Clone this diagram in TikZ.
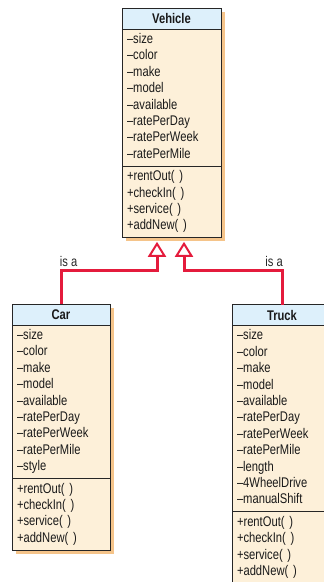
\documentclass[tikz,border=0pt]{standalone}
\usepackage{fontspec}
\setmainfont{Liberation Sans}[FakeStretch=0.8]
\usepackage{tikz}
\usetikzlibrary{arrows.meta, positioning, shadows}
\definecolor{headblue}{HTML}{DDF0FB}
\definecolor{bodycream}{HTML}{FDF0D9}
\definecolor{shadoworange}{HTML}{F5C48A}
\definecolor{isared}{HTML}{E41B3C}

\begin{document}
\begin{tikzpicture}[x=1pt, y=1pt,
  umlpart/.style={draw=black!85, line width=1pt, outer sep=0pt, fill=bodycream, text=black!90,
    drop shadow={shadow xshift=3.5pt, shadow yshift=-3.5pt, fill=shadoworange, opacity=1}},
  umlhead/.style={umlpart, fill=headblue, minimum width=#1, minimum height=21pt, inner sep=0pt,
    font=\fontsize{14}{16}\bfseries\selectfont},
  umllist/.style={umlpart, text width=#1, inner xsep=5pt, inner ysep=3pt, align=left,
    font=\fontsize{14}{16.4}\selectfont, execute at begin node=\strut, execute at end node=\strut},
  isa/.style={draw=isared, line width=3pt, -{Triangle[open, width=18pt, length=15pt, line width=2pt]}},
  isalabel/.style={font=\fontsize{14}{16}\selectfont, inner sep=1pt, text=black!85}]
  \useasboundingbox (0,0) rectangle (324,-582);

  % superclass
  \node[umlhead=99pt] (vtitle) at (171.5,-18.5) {Vehicle};
  \node[umllist=89pt, below=0pt of vtitle] (vattr) {--size\\--color\\--make\\--model\\--available\\--ratePerDay\\--ratePerWeek\\--ratePerMile};
  \node[umllist=89pt, below=0pt of vattr] (vmeth) {+rentOut( )\\+checkIn( )\\+service( )\\+addNew( )};

  % subclasses
  \node[umlhead=98pt] (ctitle) at (61,-314.5) {Car};
  \node[umllist=88pt, below=0pt of ctitle] (cattr) {--size\\--color\\--make\\--model\\--available\\--ratePerDay\\--ratePerWeek\\--ratePerMile\\--style};
  \node[umllist=88pt, below=0pt of cattr] (cmeth) {+rentOut( )\\+checkIn( )\\+service( )\\+addNew( )};

  \node[umlhead=100pt] (ttitle) at (282,-315) {Truck};
  \node[umllist=90pt, below=0pt of ttitle] (tattr) {--size\\--color\\--make\\--model\\--available\\--ratePerDay\\--ratePerWeek\\--ratePerMile\\--length\\--4WheelDrive\\--manualShift};
  \node[umllist=90pt, below=0pt of tattr] (tmeth) {+rentOut( )\\+checkIn( )\\+service( )\\+addNew( )};

  \draw[isa] (ctitle.north) -- ++(0,34) -| node[pos=0.04, above=1pt, isalabel] (isacar) {is a} ([xshift=-14.5pt, yshift=-4pt]vmeth.south);
  \draw[isa] (ttitle.north) -- ++(0,34.5) -| node[pos=0.04, above=1pt, isalabel] (isatruck) {is a} ([xshift=12.5pt, yshift=-4pt]vmeth.south);
\end{tikzpicture}
\end{document}
